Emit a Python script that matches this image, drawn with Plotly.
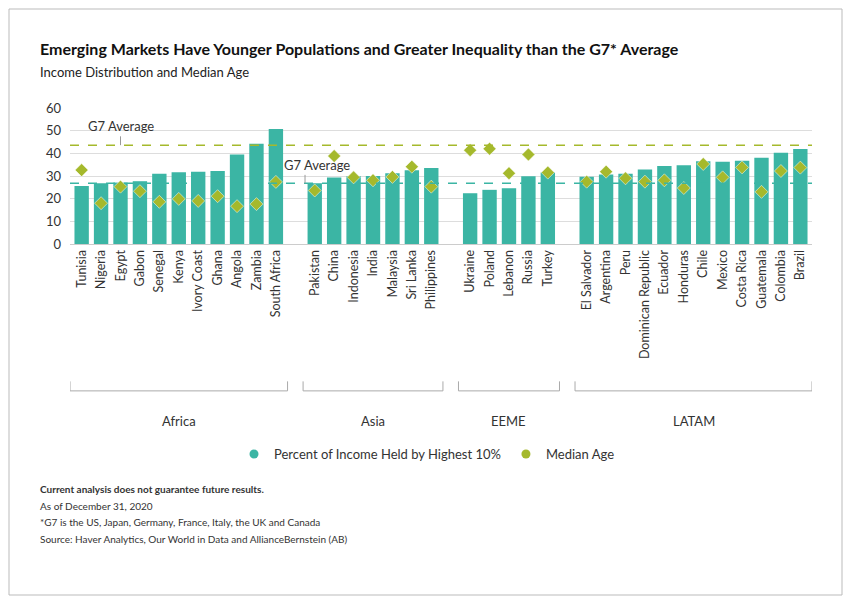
import plotly.graph_objects as go

africa = ["Tunisia","Nigeria","Egypt","Gabon","Senegal","Kenya","Ivory Coast","Ghana","Angola","Zambia","South Africa"]
asia = ["Pakistan","China","Indonesia","India","Malaysia","Sri Lanka","Philippines"]
eeme = ["Ukraine","Poland","Lebanon","Russia","Turkey"]
latam = ["El Salvador","Argentina","Peru","Dominican Republic","Ecuador","Honduras","Chile","Mexico","Costa Rica","Guatemala","Colombia","Brazil"]
income_top10 = [25.6,26.8,27.1,27.7,31.0,31.6,31.9,32.2,39.5,44.2,50.7,
                 26.8,29.3,29.9,30.0,31.2,32.5,33.5,
                 22.4,23.9,24.6,29.9,31.5,
                 29.7,30.7,31.0,32.9,34.4,34.7,36.5,36.3,36.7,38.0,40.3,41.9]
median_age = [32.6,18.0,25.3,23.3,18.6,19.9,19.0,21.1,16.7,17.6,27.4,
              23.6,38.8,29.4,28.1,29.6,34.1,25.3,
              41.4,42.0,31.2,39.5,31.5,
              27.5,31.9,29.0,27.5,28.1,24.7,35.3,29.4,33.8,23.0,32.2,33.7]
g7_income = 26.8
g7_age = 43.6
groups = [("Africa", africa), ("Asia", asia), ("EEME", eeme), ("LATAM", latam)]

TEAL = "#3bb5a4"; LIME = "#a5b92c"
xs, names, spans = [], [], []
pos = 0
for gname, members in groups:
    start = pos
    for m in members:
        xs.append(pos); names.append(m); pos += 1
    spans.append((gname, start, pos - 1))
    pos += 1

fig = go.Figure()
fig.add_bar(x=xs, y=income_top10, marker_color=TEAL, marker_line_width=0, width=0.74, showlegend=False)
fig.add_scatter(x=xs, y=median_age, mode="markers", showlegend=False,
                marker=dict(symbol="diamond", size=10, color=LIME, line=dict(color="white", width=0.5)))
fig.add_scatter(x=[None], y=[None], mode="markers", name="Percent of Income Held by Highest 10%",
                marker=dict(symbol="circle", size=9, color=TEAL))
fig.add_scatter(x=[None], y=[None], mode="markers", name="Median Age",
                marker=dict(symbol="circle", size=9, color=LIME))

xmin, xmax = -0.6, xs[-1] + 0.6
fig.add_shape(type="line", x0=xmin, x1=xmax, y0=g7_age, y1=g7_age, line=dict(color=LIME, width=1.5, dash="dash"))
fig.add_shape(type="line", x0=xmin, x1=xmax, y0=g7_income, y1=g7_income, line=dict(color=TEAL, width=1.5, dash="dash"))
fig.add_shape(type="line", x0=2, x1=2, y0=g7_age, y1=47.5, line=dict(color="#999", width=1))
fig.add_shape(type="line", x0=11.5, x1=11.5, y0=g7_income, y1=30.5, line=dict(color="#999", width=1))
fig.add_annotation(x=2, y=47.5, text="G7 Average", showarrow=False, yanchor="bottom", font=dict(size=13, color="#333"))
fig.add_annotation(x=12.1, y=30.5, text="G7 Average", showarrow=False, yanchor="bottom", font=dict(size=13, color="#333"))

for gname, a, b in spans:
    x0, x1 = a - 0.6, b + 0.6
    fig.add_shape(type="line", xref="x", yref="paper", x0=x0, x1=x1, y0=-1.08, y1=-1.08, line=dict(color="#aaa", width=1))
    for xx in (x0, x1):
        fig.add_shape(type="line", xref="x", yref="paper", x0=xx, x1=xx, y0=-1.08, y1=-1.01, line=dict(color="#aaa", width=1))
    fig.add_annotation(x=(a + b) / 2, xref="x", yref="paper", y=-1.305, text=gname, showarrow=False,
                       yanchor="middle", font=dict(size=13, color="#333"))

def px(p): return (p - 70) / 742
def py(p): return (244 - p) / 136
fig.add_shape(type="rect", xref="paper", yref="paper", x0=px(9), x1=px(842), y0=py(9), y1=py(595),
              line=dict(color="#bbb", width=1))
fig.add_annotation(xref="paper", yref="paper", x=px(38), y=py(48), xanchor="left", yanchor="middle", showarrow=False,
                   text="<b>Emerging Markets Have Younger Populations and Greater Inequality than the G7* Average</b>",
                   font=dict(size=16, color="#111"))
fig.add_annotation(xref="paper", yref="paper", x=px(38), y=py(72), xanchor="left", yanchor="middle", showarrow=False,
                   text="Income Distribution and Median Age", font=dict(size=13, color="#222"))
foot = [("<b>Current analysis does not guarantee future results.</b>", 489),
        ("As of December 31, 2020", 506), ("*G7 is the US, Japan, Germany, France, Italy, the UK and Canada", 522),
        ("Source: Haver Analytics, Our World in Data and AllianceBernstein (AB)", 539)]
for t, yy in foot:
    fig.add_annotation(xref="paper", yref="paper", x=px(38), y=py(yy), xanchor="left", yanchor="middle", showarrow=False,
                       text=t, font=dict(size=10, color="#333"))

fig.update_layout(
    width=843, height=596, margin=dict(l=62, r=39, t=100, b=360),
    paper_bgcolor="white", plot_bgcolor="white", font=dict(family="Lato, Noto Sans, sans-serif"),
    bargap=0.3,
    legend=dict(orientation="h", x=px(427), xanchor="center", y=py(454), yanchor="middle",
                font=dict(size=13, color="#333")),
    xaxis=dict(range=[xmin, xmax], tickmode="array", tickvals=xs, ticktext=names, tickangle=-90,
               tickfont=dict(size=12.5, color="#333"), showgrid=False, showline=True, linecolor="#ccc"),
    yaxis=dict(range=[0, 60], dtick=10, gridcolor="#ddd", tickfont=dict(size=13, color="#333"),
               zeroline=False, ticklabelstandoff=8),
)
fig.write_html("out.html")
